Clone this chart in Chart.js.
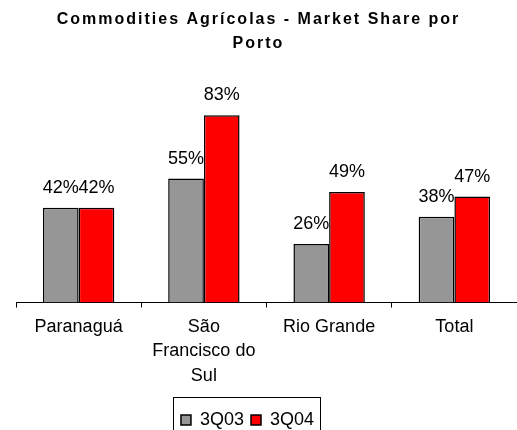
<!DOCTYPE html>
<html>
<head>
<meta charset="utf-8">
<script src="https://cdn.jsdelivr.net/npm/chart.js@4"></script>
<style>
  html, body { margin: 0; padding: 0; background: #fff; overflow: hidden; }
  #wrap { width: 517px; height: 430px; }
</style>
</head>
<body>
<div id="wrap"><canvas id="shareChart" width="517" height="430"></canvas></div>
<script>
const portos = ["Paranaguá", ["São", "Francisco do", "Sul"], "Rio Grande", "Total"];
const share3Q03 = [0.42, 0.55, 0.26, 0.38];
const share3Q04 = [0.42, 0.83, 0.49, 0.47];
const titulo = ["Commodities Agrícolas - Market Share por", "Porto"];

const FONT = "'Liberation Sans', Arial, sans-serif";

// rotulos % em cima das barras
const labelsPlugin = {
  id: "valueLabels",
  afterDatasetsDraw(chart) {
    const ctx = chart.ctx;
    ctx.save();
    ctx.font = "18px " + FONT;
    ctx.fillStyle = "#000";
    ctx.textAlign = "center";
    ctx.textBaseline = "alphabetic";
    chart.data.datasets.forEach((ds, i) => {
      chart.getDatasetMeta(i).data.forEach((bar, j) => {
        const txt = Math.round(ds.data[j] * 100) + "%";
        ctx.fillText(txt, bar.x, bar.y - 15);
      });
    });
    ctx.restore();
  },
};

// titulo espacado + legenda um pouco pra esquerda/baixo
const ajustes = {
  id: "ajustes",
  afterLayout(chart) {
    const lg = chart.legend;
    if (lg) {
      lg.left -= 11;
      lg.right -= 11;
      lg.top += 9;
      lg.bottom += 9;
    }
    const tb = chart.titleBlock;
    if (tb && !tb._spaced) {
      const orig = tb.draw.bind(tb);
      tb.draw = function () {
        chart.ctx.letterSpacing = "2px";
        orig();
        chart.ctx.letterSpacing = "0px";
      };
      tb._spaced = true;
    }
  },
};

// moldura da legenda
const legendBox = {
  id: "legendBox",
  afterDraw(chart) {
    const lg = chart.legend;
    if (!lg || !lg.legendHitBoxes.length) return;
    const boxes = lg.legendHitBoxes;
    const x1 = Math.min(...boxes.map((b) => b.left)) - 8;
    const x2 = Math.max(...boxes.map((b) => b.left + b.width)) + 6;
    const y1 = Math.min(...boxes.map((b) => b.top)) - 14;
    const ctx = chart.ctx;
    ctx.save();
    ctx.strokeStyle = "#000";
    ctx.lineWidth = 1;
    ctx.strokeRect(Math.round(x1) + 0.5, Math.round(y1) + 0.5, Math.round(x2 - x1), 60);
    ctx.restore();
  },
};

new Chart(document.getElementById("shareChart").getContext("2d"), {
  type: "bar",
  data: {
    labels: portos,
    datasets: [
      {
        label: "3Q03",
        data: share3Q03,
        backgroundColor: "#969696",
        borderColor: "#000",
        borderWidth: 1.5,
        categoryPercentage: 0.57,
        barPercentage: 1,
      },
      {
        label: "3Q04",
        data: share3Q04,
        backgroundColor: "#ff0000",
        borderColor: "#000",
        borderWidth: 1.5,
        categoryPercentage: 0.57,
        barPercentage: 1,
      },
    ],
  },
  options: {
    responsive: false,
    animation: false,
    layout: { padding: 0 },
    plugins: {
      title: {
        display: true,
        text: titulo,
        color: "#000",
        font: { family: FONT, size: 16, weight: "bold", lineHeight: 1.5 },
        padding: { top: 8, bottom: 21 },
      },
      legend: {
        position: "bottom",
        labels: {
          color: "#000",
          font: { family: FONT, size: 18 },
          boxWidth: 10,
          boxHeight: 10,
          padding: 7,
        },
      },
      tooltip: { enabled: false },
    },
    scales: {
      x: {
        grid: {
          display: true,
          drawOnChartArea: false,
          drawTicks: true,
          tickLength: 5,
          color: "#000",
          offset: true,
        },
        border: { display: true, color: "#000", width: 1 },
        ticks: {
          color: "#000",
          font: { family: FONT, size: 18, lineHeight: 1.36 },
          padding: 7,
          maxRotation: 0,
          autoSkip: false,
        },
      },
      y: {
        display: true,
        min: 0,
        max: 1,
        grid: { display: false },
        border: { display: false },
        ticks: { display: false },
        afterFit(scale) {
          scale.width = 16;
        },
      },
    },
  },
  plugins: [labelsPlugin, ajustes, legendBox],
});
</script>
</body>
</html>
